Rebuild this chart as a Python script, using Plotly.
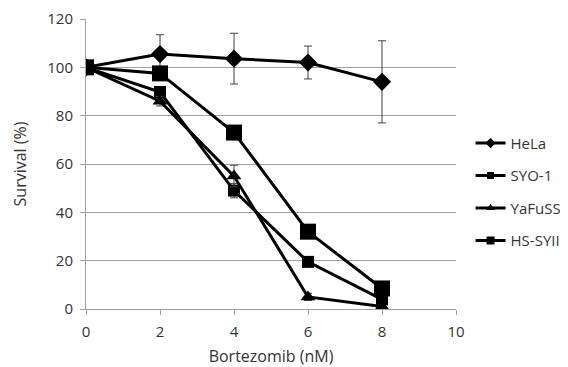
import plotly.graph_objects as go

doses = [0, 2, 4, 6, 8]
hela = [100, 105.5, 103.6, 102, 94]
hela_err = [0, 8, 10.5, 6.8, 17]
syo1 = [100, 89.8, 49, 19.5, 4]
syo1_err = [0, 2, 3, 1.5, 1]
yafuss = [100, 86, 55, 5, 1]
yafuss_err = [0, 2, 4.5, 1.5, 0.5]
hssyii = [100, 97.5, 73, 32, 8.5]
hssyii_err = [0, 2, 2, 2, 1.5]

series = [
    ("HeLa", hela, hela_err, "diamond", 14, 8),
    ("SYO-1", syo1, syo1_err, "square", 12, 7),
    ("YaFuSS", yafuss, yafuss_err, "triangle-up", 13, 8),
    ("HS-SYII", hssyii, hssyii_err, "square", 16, 8),
]

fig = go.Figure()
for name, vals, err, sym, sz, lsz in series:
    fig.add_trace(go.Scatter(
        x=doses, y=vals, name=name, mode="lines+markers", showlegend=False,
        legendgroup=name,
        line=dict(color="black", width=3),
        marker=dict(symbol=sym, size=sz, color="black"),
        error_y=dict(type="data", array=err, visible=True, color="#404040",
                     thickness=1, width=4),
    ))
    # legend-only entry with the small key marker used in the original
    fig.add_trace(go.Scatter(
        x=[None], y=[None], name=name, mode="lines+markers", showlegend=True,
        legendgroup=name,
        line=dict(color="black", width=3),
        marker=dict(symbol=sym, size=lsz, color="black"),
    ))

font = "Open Sans, Liberation Sans, sans-serif"
txt = "#333333"
fig.update_layout(
    width=560, height=359,
    margin=dict(l=78, r=112, t=11, b=58, autoexpand=False),
    paper_bgcolor="white", plot_bgcolor="white",
    font=dict(family=font, size=15, color=txt),
    showlegend=True,
    legend=dict(xref="container", yref="container", x=0.826, y=0.669,
                xanchor="left", yanchor="top",
                font=dict(size=15, color=txt),
                itemwidth=30, tracegroupgap=10, bgcolor="rgba(0,0,0,0)"),
    xaxis=dict(range=[0, 10], tickvals=[0, 2, 4, 6, 8, 10], showgrid=False,
               showline=True, linecolor="#a0a0a0", linewidth=1,
               ticks="outside", ticklen=5, tickcolor="#a0a0a0",
               zeroline=False, automargin=False, ticklabelstandoff=4,
               tickfont=dict(size=15, color=txt),
               title=dict(text="Bortezomib (nM)", standoff=13,
                          font=dict(size=16, color=txt))),
    yaxis=dict(range=[0, 120], tickvals=[0, 20, 40, 60, 80, 100, 120],
               showgrid=True, gridcolor="#a0a0a0", gridwidth=1,
               showline=True, linecolor="#a0a0a0", linewidth=1,
               ticks="outside", ticklen=5, tickcolor="#a0a0a0",
               zeroline=False, automargin=False, ticklabelstandoff=4,
               tickfont=dict(size=15, color=txt),
               title=dict(text="Survival (%)", standoff=16,
                          font=dict(size=16, color=txt))),
)

fig.write_html("out.html")
